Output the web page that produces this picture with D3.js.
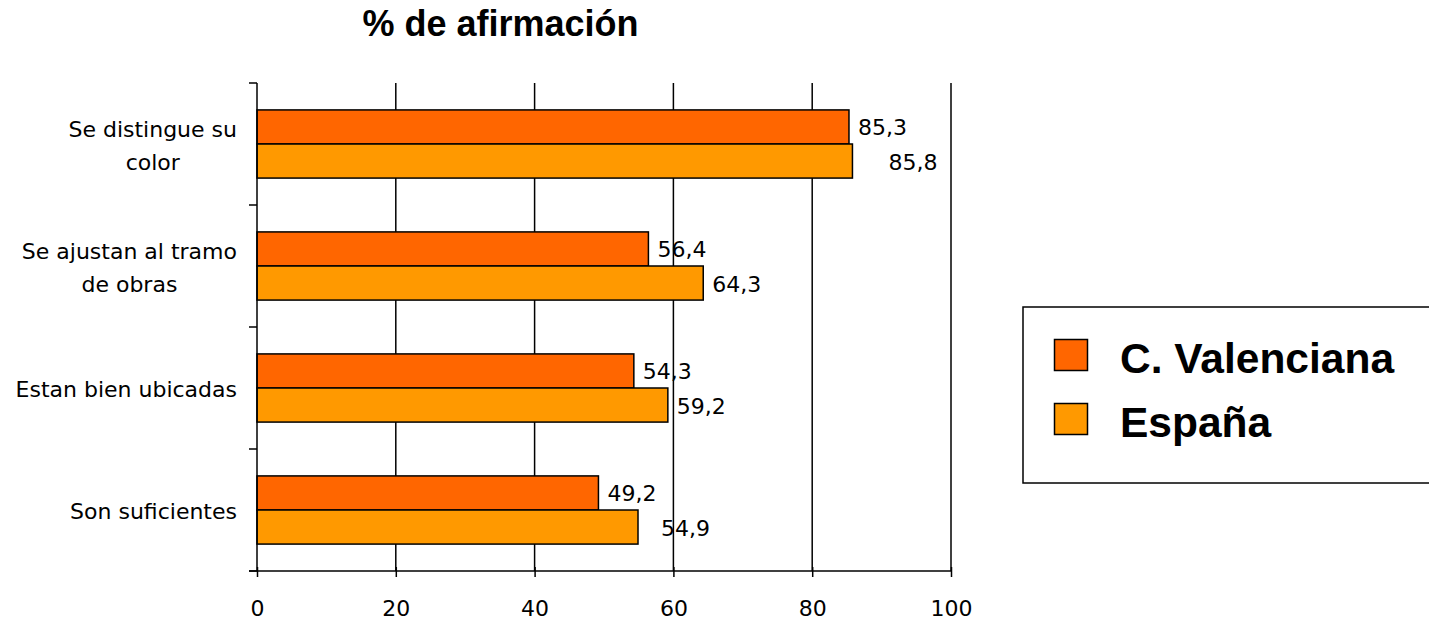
<!DOCTYPE html>
<html>
<head>
<meta charset="utf-8">
<script src="https://cdn.jsdelivr.net/npm/d3@7"></script>
<style>
  html, body { margin: 0; padding: 0; background: #fff; }
  svg { display: block; }
  .lbl { font-family: "DejaVu Sans", sans-serif; fill: #000; }
</style>
</head>
<body>
<svg id="chart" width="1429" height="620"></svg>
<script>
// ---- data ----
const title = "% de afirmación";
const categories = ["Se distingue su\ncolor", "Se ajustan al tramo\nde obras", "Estan bien ubicadas", "Son suficientes"];
const seriesNames = ["C. Valenciana", "España"];
const valuesValenciana = [85.3, 56.4, 54.3, 49.2];
const valuesEspana = [85.8, 64.3, 59.2, 54.9];
const xTicks = [0, 20, 40, 60, 80, 100];
const colors = ["#FF6600", "#FF9900"];
// manual label nudges (as moved in the original), px
const labelNudgeValenciana = [0, 0, 0, 0];
const labelNudgeEspana = [27, 0, 0, 14];

const series = [
  { name: seriesNames[0], values: valuesValenciana, nudge: labelNudgeValenciana, color: colors[0] },
  { name: seriesNames[1], values: valuesEspana, nudge: labelNudgeEspana, color: colors[1] }
];

const svg = d3.select("#chart");
const pLeft = 257, pRight = 951, pTop = 83, pBottom = 571;
const fs = 22;

const x = d3.scaleLinear().domain([0, 100]).range([pLeft, pRight]);
const y = d3.scaleBand().domain(categories).range([pTop, pBottom]).paddingInner(0).paddingOuter(0);
const ySub = d3.scaleBand().domain(seriesNames).range([0, y.bandwidth()]).paddingInner(0).paddingOuter(0.79);

const fmt = v => d3.format(".1f")(v).replace(".", ",");

// gridlines
svg.append("g").selectAll("line").data(xTicks.filter(t => t > 0)).join("line")
  .attr("x1", d => x(d)).attr("x2", d => x(d))
  .attr("y1", pTop).attr("y2", pBottom)
  .attr("stroke", "#000").attr("stroke-width", 1.5);

// bars
const groups = svg.append("g").selectAll("g").data(series).join("g");
groups.selectAll("rect").data(s => s.values.map((v, i) => ({ v, i, s }))).join("rect")
  .attr("x", x(0))
  .attr("y", d => y(categories[d.i]) + ySub(d.s.name))
  .attr("width", d => x(d.v) - x(0))
  .attr("height", ySub.bandwidth())
  .attr("fill", d => d.s.color)
  .attr("stroke", "#000").attr("stroke-width", 1.5);

// value labels
groups.selectAll("text").data(s => s.values.map((v, i) => ({ v, i, s }))).join("text")
  .attr("class", "lbl")
  .attr("font-size", fs)
  .attr("x", d => x(d.v) + 9 + d.s.nudge[d.i])
  .attr("y", d => y(categories[d.i]) + ySub(d.s.name) + ySub.bandwidth() / 2 + 8.5)
  .text(d => fmt(d.v));

// x axis
const xAxis = d3.axisBottom(x).tickValues(xTicks).tickSize(0).tickFormat(d => d);
const gx = svg.append("g").attr("transform", `translate(0,${pBottom})`).call(xAxis);
gx.select(".domain").remove();
gx.attr("font-family", null).attr("font-size", null);
gx.selectAll(".tick text").attr("class", "lbl").attr("font-size", fs).attr("dy", null).attr("y", 45).attr("fill", "#000");
gx.selectAll(".tick").append("line").attr("y1", -4).attr("y2", 6).attr("stroke", "#000").attr("stroke-width", 1.5);
svg.append("line").attr("x1", pLeft - 8).attr("x2", pRight).attr("y1", pBottom).attr("y2", pBottom)
  .attr("stroke", "#000").attr("stroke-width", 1.5);

// y axis
svg.append("line").attr("x1", pLeft).attr("x2", pLeft).attr("y1", pTop).attr("y2", pBottom)
  .attr("stroke", "#000").attr("stroke-width", 1.5);
const bounds = categories.map(c => y(c)).concat([y.range()[1]]);
svg.append("g").selectAll("line").data(bounds).join("line")
  .attr("x1", pLeft - 8).attr("x2", pLeft).attr("y1", d => d).attr("y2", d => d)
  .attr("stroke", "#000").attr("stroke-width", 1.5);

// category labels
const labelRight = 237, lineH = 33;
categories.forEach(c => {
  const lines = c.split("\n");
  const cy = y(c) + y.bandwidth() / 2;
  const t = svg.append("text").attr("class", "lbl").attr("font-size", fs).attr("text-anchor", "middle");
  lines.forEach((ln, k) => {
    t.append("tspan").attr("y", cy + 9 + (k - (lines.length - 1) / 2) * lineH).text(ln);
  });
  let maxW = 0;
  t.selectAll("tspan").each(function () { maxW = Math.max(maxW, this.getComputedTextLength()); });
  t.selectAll("tspan").attr("x", labelRight - maxW / 2);
});

// title
svg.append("text").attr("x", 500.5).attr("y", 36).attr("text-anchor", "middle")
  .attr("font-family", "'Liberation Sans', Arial, sans-serif").attr("font-weight", "bold")
  .attr("font-size", 36).text(title);

// legend
const lg = svg.append("g");
lg.append("rect").attr("x", 1023).attr("y", 307).attr("width", 500).attr("height", 176)
  .attr("fill", "#fff").attr("stroke", "#000").attr("stroke-width", 1.5);
series.forEach((s, k) => {
  lg.append("rect").attr("x", 1054.5).attr("y", 339.5 + k * 64).attr("width", 33).attr("height", 31)
    .attr("fill", s.color).attr("stroke", "#000").attr("stroke-width", 1.5);
  lg.append("text").attr("x", 1120).attr("y", 373 + k * 64)
    .attr("font-family", "'Liberation Sans', Arial, sans-serif").attr("font-weight", "bold")
    .attr("font-size", 42.5).text(s.name);
});
</script>
</body>
</html>
